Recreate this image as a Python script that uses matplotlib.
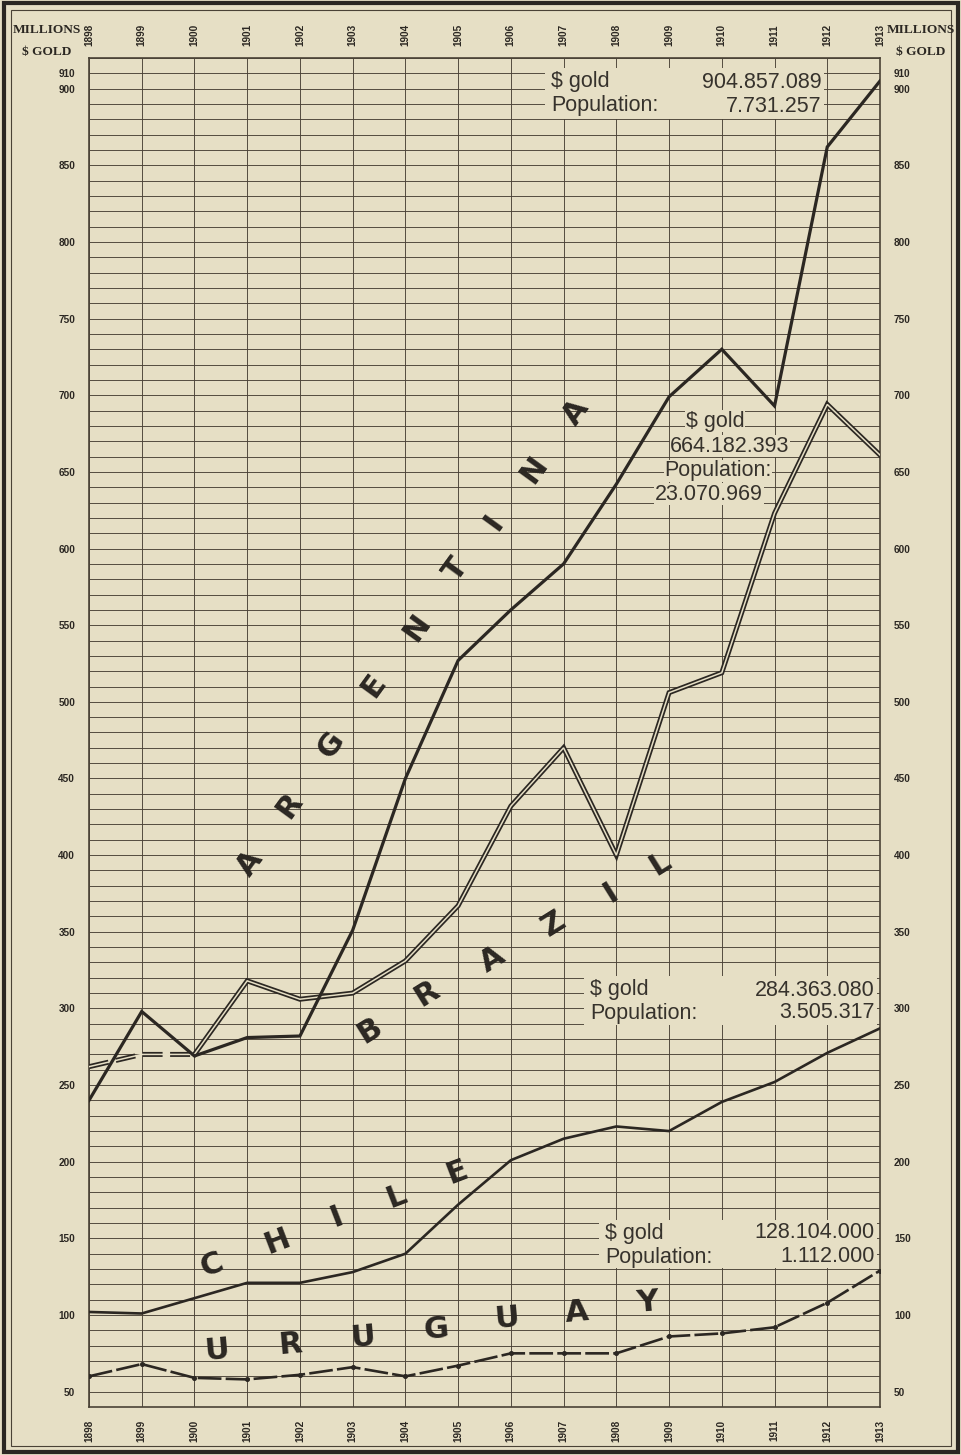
import matplotlib; matplotlib.use("Agg")
import matplotlib.pyplot as plt
from matplotlib.patches import Rectangle

# values (millions $ gold)
years = list(range(1898, 1914))
argentina = [240, 298, 269, 281, 282, 351, 450, 527, 560, 590, 642, 699, 730, 693, 862, 905]
brazil = [262, 270, 270, 318, 306, 310, 331, 367, 432, 470, 400, 506, 519, 623, 694, 661]
chile = [102, 101, 111, 121, 121, 128, 140, 172, 201, 215, 223, 220, 239, 252, 271, 287]
uruguay = [60, 68, 59, 58, 61, 66, 60, 67, 75, 75, 75, 86, 88, 92, 108, 129]
ytick_vals = [50, 100, 150, 200, 250, 300, 350, 400, 450, 500, 550, 600,
              650, 700, 750, 800, 850, 900, 910]
notes = {
    "argentina": [("$ gold", "904.857.089"), ("Population:", "7.731.257")],
    "chile": [("$ gold", "284.363.080"), ("Population:", "3.505.317")],
    "uruguay": [("$ gold", "128.104.000"), ("Population:", "1.112.000")],
}
brazil_note = ["$ gold", "664.182.393", "Population:", "23.070.969"]

PAPER = "#e6dfc5"; INK = "#2b2722"; GRID = "#4a4236"
W, H = 962, 1455
fig = plt.figure(figsize=(W/100, H/100), dpi=100, facecolor=PAPER)
def fx(x): return x/W
def fy(y): return 1 - y/H

ax = fig.add_axes([fx(89), fy(1407), (880-89)/W, (1407-58)/H])
ax.set_facecolor(PAPER)
ax.set_xlim(1898, 1913); ax.set_ylim(40, 920)
ax.hlines(range(40, 921, 10), 1898, 1913, color=GRID, lw=0.65, zorder=1)
ax.vlines(years, 40, 920, color=GRID, lw=0.65, zorder=1)
for s in ax.spines.values(): s.set_color(GRID); s.set_linewidth(1.2)

tkw = dict(family="Liberation Sans", fontweight="bold", fontsize=7.2, color=INK)
ax.set_xticks(years); ax.set_xticklabels([str(y) for y in years], rotation=90, **tkw)
ax.tick_params(axis="x", top=True, labeltop=True, length=0, pad=9)
ax.set_yticks(ytick_vals); ax.set_yticklabels([str(v) for v in ytick_vals], **tkw)
ax.tick_params(axis="y", right=True, labelright=True, length=0, pad=10)

# series
ax.plot(years, argentina, color=INK, lw=2.3, zorder=6, solid_joinstyle="miter")
ax.plot(years[:3], brazil[:3], color=INK, lw=3.6, ls=(0, (4, 1.5)), zorder=5)
ax.plot(years[:3], brazil[:3], color=PAPER, lw=1.1, zorder=5.1)
ax.plot(years[2:], brazil[2:], color=INK, lw=3.6, zorder=5, solid_joinstyle="miter")
ax.plot(years[2:], brazil[2:], color=PAPER, lw=1.1, zorder=5.1, solid_joinstyle="miter")
ax.plot(years, chile, color=INK, lw=1.9, zorder=6)
ax.plot(years, uruguay, color=INK, lw=1.9, ls=(0, (9, 1.6)), marker="o", ms=2.6, zorder=6)

# annotation boxes
nkw = dict(family="Liberation Sans", fontsize=15.5, color="#36322c", zorder=4)
def note(rows, x0, x1, y0, y1, yrows):
    fig.add_artist(Rectangle((fx(x0), fy(y1)), (x1-x0)/W, (y1-y0)/H, transform=fig.transFigure,
                             fc=PAPER, ec="none", zorder=3))
    for (a, b), yy in zip(rows, yrows):
        fig.text(fx(x0+6), fy(yy), a, ha="left", va="center", **nkw)
        fig.text(fx(x1-2), fy(yy), b, ha="right", va="center", **nkw)
note(notes["argentina"], 545, 824, 68, 119, [82, 106])
note(notes["chile"], 584, 877, 976, 1025, [990, 1013])
note(notes["uruguay"], 599, 877, 1220, 1268, [1233, 1257])
for t, (x, y) in zip(brazil_note, [(715, 421), (730, 446), (718, 471), (709, 494)]):
    fig.text(fx(x), fy(y), t, ha="center", va="center",
             bbox=dict(fc=PAPER, ec="none", pad=0.5), **nkw)

# big country letters
lkw = dict(family="DejaVu Sans", fontweight="bold", fontsize=22, color=INK,
           ha="center", va="center", rotation_mode="anchor", zorder=4)
words = [
    ("ARGENTINA", 54, [(250, 863), (289, 805), (331, 745), (373, 686), (417, 628),
                       (456, 570), (494, 522), (534, 470), (576, 412)]),
    ("BRAZIL", 32, [(370, 1031), (427, 994), (492, 960), (554, 924), (611, 893), (660, 864)]),
    ("CHILE", 21, [(212, 1265), (277, 1242), (337, 1217), (396, 1197), (457, 1172)]),
    ("URUGUAY", 5, [(217, 1350), (290, 1345), (363, 1337), (436, 1329), (507, 1318),
                    (577, 1313), (648, 1303)]),
]
for word, rot, pos in words:
    for ch, (x, y) in zip(word, pos):
        fig.text(fx(x), fy(y), ch, rotation=rot, **lkw)

# unit headings
hkw = dict(ha="center", va="center", family="Liberation Serif", fontweight="bold",
           fontsize=9.6, color=INK)
for xc in (47, 921):
    fig.text(fx(xc), fy(30), "MILLIONS", **hkw)
    fig.text(fx(xc), fy(52), "$ GOLD", **hkw)

# double border
fig.add_artist(Rectangle((fx(4), fy(1452)), (958-4)/W, (1452-3)/H, transform=fig.transFigure,
                         fill=False, ec=INK, lw=3))
fig.add_artist(Rectangle((fx(11), fy(1446)), (951-11)/W, (1446-10)/H, transform=fig.transFigure,
                         fill=False, ec=GRID, lw=0.8))

fig.savefig("out.png", dpi=100, facecolor=PAPER)
